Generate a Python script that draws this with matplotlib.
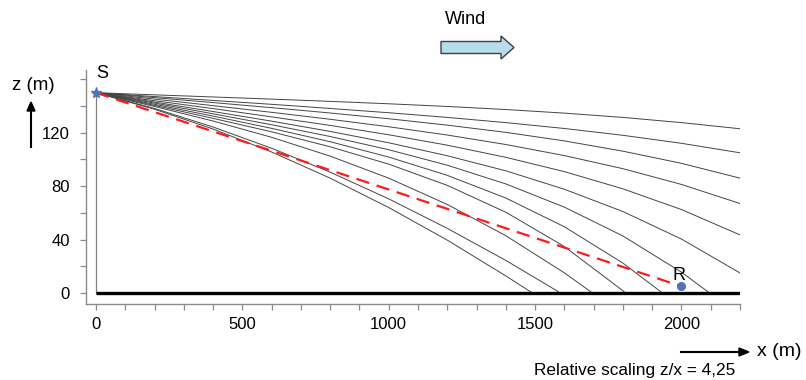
import numpy as np
import matplotlib.pyplot as plt
from matplotlib.patches import Polygon

plt.rcParams['font.family'] = ['Liberation Sans', 'DejaVu Sans']

# sample positions along x (m) and ray heights z (m)
ray_x = [0, 200, 400, 600, 800, 1000, 1200, 1400, 1600, 1800, 2000, 2200]
nan = np.nan
ray_z = [
    [150, 148.4, 146.8, 145.2, 143.5, 141.7, 139.7, 137.4, 134.7, 131.5, 127.6, 123.0],
    [150, 147.1, 144.2, 141.3, 138.2, 135.0, 131.5, 127.6, 123.2, 118.1, 112.1, 105.0],
    [150, 146.3, 142.6, 138.8, 134.8, 130.5, 125.7, 120.3, 113.9, 106.2, 97.1, 86.0],
    [150, 145.2, 140.3, 135.3, 130.1, 124.5, 118.3, 111.2, 102.9, 93.1, 81.3, 67.0],
    [150, 144.0, 138.1, 131.9, 125.5, 118.5, 110.7, 101.6, 90.9, 78.0, 62.5, 43.5],
    [150, 143.0, 135.9, 128.7, 121.0, 112.5, 102.8, 91.5, 77.7, 61.0, 40.4, 15.0],
    [150, 142.2, 134.2, 126.0, 117.2, 107.3, 95.7, 81.7, 64.3, 42.7, 15.6, nan],
    [150, 141.3, 132.5, 123.3, 113.3, 101.8, 88.1, 71.1, 49.6, 22.4, nan, nan],
    [150, 140.5, 130.8, 120.7, 109.5, 96.5, 80.6, 60.5, 34.8, 1.7, nan, nan],
    [150, 139.7, 128.8, 116.6, 102.5, 86.0, 66.3, 42.9, 15.1, nan, nan, nan],
    [150, 138.2, 124.3, 108.4, 90.5, 70.5, 48.4, 24.4, nan, nan, nan, nan],
    [150, 137.6, 122.8, 105.6, 86.0, 64.0, 39.6, 12.8, nan, nan, nan, nan],
]
# where each ray reaches the ground (None = leaves the plot on the right)
ray_ground_x = [None, None, None, None, None, None, 2096, 1935, 1809, 1696, 1587, 1491]

source = (0, 150)
receiver = (2000, 5)
x_max = 2200

x_ticks = [0, 500, 1000, 1500, 2000]
z_ticks = [0, 40, 80, 120]

fig = plt.figure(figsize=(8.06, 3.8), dpi=100)
ax = fig.add_axes([86 / 806, 1 - 304 / 380, (740 - 86) / 806, (304 - 70) / 380])

# rays
for zs, xg in zip(ray_z, ray_ground_x):
    xs = [x for x, z in zip(ray_x, zs) if not np.isnan(z)]
    zz = [z for z in zs if not np.isnan(z)]
    if xg is not None:
        xs.append(xg)
        zz.append(0)
    ax.plot(xs, zz, color='#454545', lw=0.7, zorder=2)

# ground and source post
ax.plot([0, x_max], [0, 0], color='black', lw=2.4, zorder=3, solid_capstyle='butt')
ax.plot([0, 0], [0, source[1]], color='#808080', lw=0.9, zorder=1)

# direct line source -> receiver
ax.plot([source[0], receiver[0]], [source[1], receiver[1]], color='#ff1a1a',
        lw=1.6, dashes=(6, 3.5), zorder=4)
ax.plot(*source, marker='*', color='#4f74b8', ms=8, zorder=5)
ax.plot(*receiver, marker='o', color='#4f74b8', ms=5.5, zorder=5)
ax.text(source[0] + 2, source[1] + 8, 'S', fontsize=13, ha='left', va='bottom')
ax.text(receiver[0] - 8, receiver[1] + 2, 'R', fontsize=13, ha='center', va='bottom')

ax.set_xlim(-34, x_max)
ax.set_ylim(-8.25, 167)
ax.set_xticks(np.arange(0, 2201, 100))
ax.set_xticklabels([str(v) if v in x_ticks else '' for v in range(0, 2201, 100)])
ax.set_yticks(np.arange(0, 161, 20))
ax.set_yticklabels([str(v) if v in z_ticks else '' for v in range(0, 161, 20)])
for s in ['top', 'right']:
    ax.spines[s].set_visible(False)
for s in ['left', 'bottom']:
    ax.spines[s].set_color('#8c8c8c')
    ax.spines[s].set_linewidth(1.0)
ax.tick_params(colors='#8c8c8c', labelcolor='black', labelsize=12, length=4.5, width=0.9)
ax.tick_params(axis='x', pad=5)
ax.tick_params(axis='y', pad=7)

# axis names and arrows (figure pixels)
def fx(px):
    return px / 806

def fy(py):
    return 1 - py / 380

fig.text(fx(12), fy(86), 'z (m)', fontsize=13.5, ha='left', va='center')
fig.add_artist(plt.Line2D([fx(31), fx(31)], [fy(147), fy(111)], color='black', lw=1.5))
fig.add_artist(Polygon([[fx(27), fy(111)], [fx(35), fy(111)], [fx(31), fy(102)]],
                       closed=True, color='black', transform=fig.transFigure))

fig.add_artist(plt.Line2D([fx(681), fx(740)], [fy(352), fy(352)], color='black', lw=1.5))
fig.add_artist(Polygon([[fx(739), fy(348)], [fx(739), fy(356)], [fx(749), fy(352)]],
                       closed=True, color='black', transform=fig.transFigure))
fig.text(fx(757), fy(352), 'x (m)', fontsize=14, ha='left', va='center')
fig.text(fx(534), fy(370), 'Relative scaling z/x = 4,25', fontsize=12.4, ha='left', va='center')

# wind arrow
fig.text(fx(445), fy(19), 'Wind', fontsize=13, ha='left', va='center')
wind = [[441, 41.5], [501, 41.5], [501, 36], [514, 47.5], [501, 59], [501, 53.5], [441, 53.5]]
fig.add_artist(Polygon([[fx(a), fy(b)] for a, b in wind], closed=True,
                       facecolor='#b7dee8', edgecolor='#3f3f3f', lw=1.0,
                       transform=fig.transFigure))

fig.savefig('out.png', dpi=100)
